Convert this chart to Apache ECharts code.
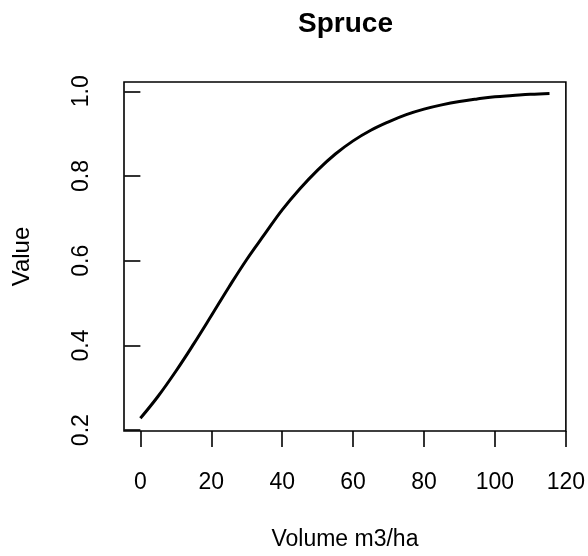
<!DOCTYPE html>
<html>
<head>
<meta charset="utf-8">
<script src="https://cdn.jsdelivr.net/npm/echarts@6/dist/echarts.min.js"></script>
<style>html,body{margin:0;padding:0;background:#fff}#c{width:588px;height:556px}</style>
</head>
<body>
<div id="c"></div>
<script>
const chartTitle = 'Spruce';
const xAxisTitle = 'Volume m3/ha';
const yAxisTitle = 'Value';
const xTicks = [0, 20, 40, 60, 80, 100, 120];
const yTicks = [0.2, 0.4, 0.6, 0.8, 1.0];
const volume = [0, 5, 10, 15, 20, 25, 30, 35, 40, 45, 50, 55, 60, 65, 70, 75, 80, 85, 90, 95, 100, 105, 110, 115.4];
const value = [0.228, 0.280, 0.339, 0.403, 0.470, 0.538, 0.603, 0.662, 0.720, 0.770, 0.814, 0.852, 0.883, 0.908, 0.928, 0.945, 0.958, 0.968, 0.976, 0.982, 0.987, 0.990, 0.993, 0.995];

const FONT = "'Liberation Sans', Arial, sans-serif";
const chart = echarts.init(document.getElementById('c'), null, {renderer: 'canvas'});
chart.setOption({
  animation: false,
  backgroundColor: '#fff',
  graphic: [{
    type: 'text', x: 345.5, y: 24,
    style: {text: chartTitle, fontFamily: FONT, fontSize: 28, fontWeight: 'bold', fill: '#000', align: 'center', verticalAlign: 'middle'}
  }],
  grid: {left: 124, top: 82, width: 443, height: 352, show: true, borderColor: '#000', borderWidth: 1.6, backgroundColor: 'transparent'},
  xAxis: {
    type: 'value', min: -4.62, max: 120.02,
    name: xAxisTitle, nameLocation: 'middle', nameGap: 97,
    nameTextStyle: {fontFamily: FONT, fontSize: 23, color: '#000'},
    axisLine: {show: false},
    splitLine: {show: false},
    axisTick: {show: true, inside: false, length: 16, customValues: xTicks, lineStyle: {color: '#000', width: 1.6}},
    axisLabel: {customValues: xTicks, margin: 40, fontFamily: FONT, fontSize: 23, color: '#000'}
  },
  yAxis: {
    type: 'value', min: 0.198, max: 1.022,
    name: yAxisTitle, nameLocation: 'middle', nameGap: 90, nameRotate: 90,
    nameTextStyle: {fontFamily: FONT, fontSize: 24, color: '#000'},
    axisLine: {show: false},
    splitLine: {show: false},
    axisTick: {show: true, inside: false, length: 16, customValues: yTicks, lineStyle: {color: '#000', width: 1.6}},
    axisLabel: {customValues: yTicks, rotate: 90, margin: 31, fontFamily: FONT, fontSize: 23, color: '#000',
      formatter: v => Number(v).toFixed(1)}
  },
  series: [{
    type: 'line',
    data: volume.map((x, i) => [x, value[i]]),
    showSymbol: false,
    smooth: 0.4,
    lineStyle: {color: '#000', width: 3},
    silent: true
  }]
});
</script>
</body>
</html>
